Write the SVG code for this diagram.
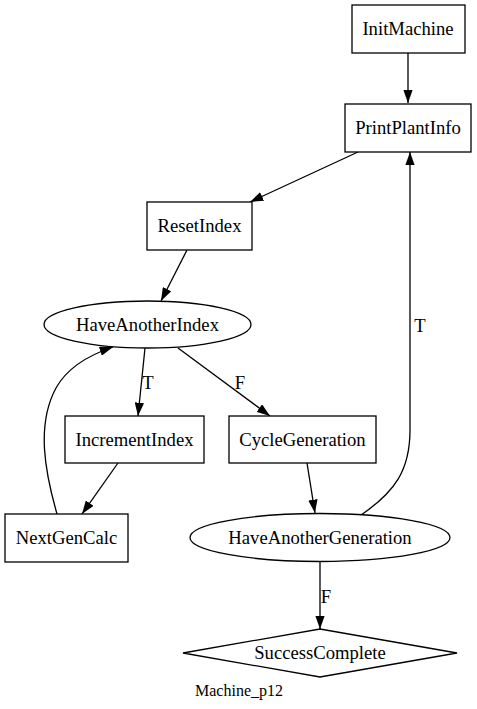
<svg xmlns="http://www.w3.org/2000/svg" width="477" height="709" viewBox="0 0 477 709">
<style>
.n{fill:#fff;stroke:#000;stroke-width:1.3}
.t{font-family:"Liberation Serif",serif;font-size:18.67px;text-anchor:middle;fill:#000}
.e{fill:none;stroke:#000;stroke-width:1.3;marker-end:url(#a)}
</style>
<defs>
<marker id="a" viewBox="0 0 13.3 9.4" refX="13.3" refY="4.7" markerWidth="13.3" markerHeight="9.4" markerUnits="userSpaceOnUse" orient="auto">
<path d="M0,0 L13.3,4.7 L0,9.4 z" fill="#000"/>
</marker>
</defs>
<rect width="477" height="709" fill="#fff"/>
<g id="edges">
<path class="e" d="M408,53 L408,103"/>
<path class="e" d="M358,152 L250,202"/>
<path class="e" d="M187,250 L161,301"/>
<path class="e" d="M145,348 L138,416"/>
<text class="t" x="148" y="389">T</text>
<path class="e" d="M178,348 L270,416"/>
<text class="t" x="240" y="389">F</text>
<path class="e" d="M118,463 L82,514"/>
<path class="e" d="M57,514 C45,472 36,425 56,388 C66,370 86,356 113,347"/>
<path class="e" d="M361,515 C395,492 410,470 410,430 L410,152"/>
<path class="e" d="M307,463 L315,513"/>
<text class="t" x="420" y="332">T</text>
<path class="e" d="M320,562 L320,629"/>
<text class="t" x="326" y="603">F</text>
</g>
<g id="InitMachine"><rect class="n" x="352" y="5" width="113" height="48"/><text class="t" x="408" y="35">InitMachine</text></g>
<g id="PrintPlantInfo"><rect class="n" x="345" y="104" width="126" height="48"/><text class="t" x="408" y="134">PrintPlantInfo</text></g>
<g id="ResetIndex"><rect class="n" x="147" y="202" width="105" height="48"/><text class="t" x="199.5" y="232">ResetIndex</text></g>
<g id="HaveAnotherIndex"><ellipse class="n" cx="147.5" cy="324.5" rx="103.5" ry="23.5"/><text class="t" x="147.5" y="330.5">HaveAnotherIndex</text></g>
<g id="IncrementIndex"><rect class="n" x="65" y="416" width="139" height="47"/><text class="t" x="134.5" y="445.5">IncrementIndex</text></g>
<g id="CycleGeneration"><rect class="n" x="229" y="416" width="147" height="47"/><text class="t" x="302.5" y="445.5">CycleGeneration</text></g>
<g id="NextGenCalc"><rect class="n" x="5" y="514" width="123" height="48"/><text class="t" x="66.5" y="544">NextGenCalc</text></g>
<g id="HaveAnotherGeneration"><ellipse class="n" cx="320" cy="537.5" rx="130" ry="24"/><text class="t" x="320" y="543.5">HaveAnotherGeneration</text></g>
<g id="SuccessComplete"><path class="n" d="M183,653 L320,629 L457,653 L320,677 z"/><text class="t" x="320" y="659">SuccessComplete</text></g>
<text x="239" y="696" style="font-family:'Liberation Serif',serif;font-size:16px;text-anchor:middle">Machine_p12</text>
</svg>
